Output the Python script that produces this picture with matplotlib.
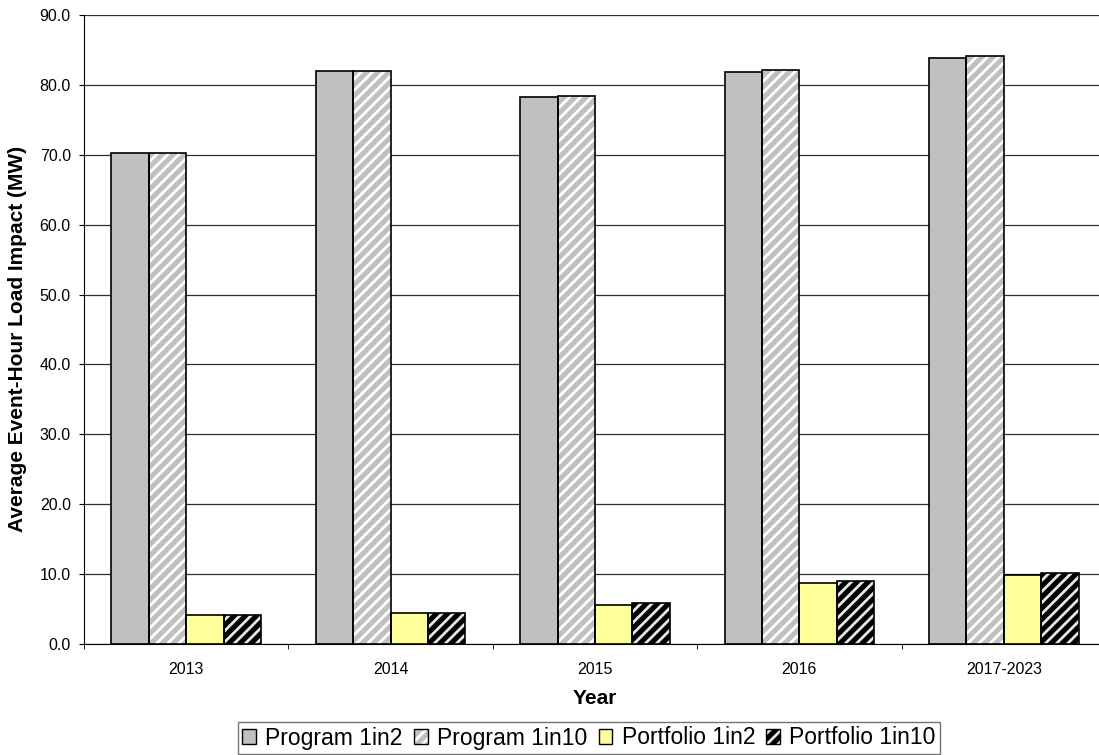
import matplotlib
matplotlib.use("Agg")
import matplotlib.pyplot as plt
import numpy as np
from matplotlib.patches import Patch
from matplotlib.legend_handler import HandlerTuple

plt.rcParams['font.family'] = ['Liberation Sans', 'DejaVu Sans']
plt.rcParams['hatch.linewidth'] = 2.0

years = ["2013", "2014", "2015", "2016", "2017-2023"]
program_1in2 = [70.3, 82.0, 78.3, 81.9, 83.9]
program_1in10 = [70.3, 82.0, 78.4, 82.1, 84.1]
portfolio_1in2 = [4.1, 4.4, 5.6, 8.7, 9.9]
portfolio_1in10 = [4.1, 4.5, 5.8, 9.0, 10.2]

series = [
    ("Program 1in2", program_1in2, "#c0c0c0", None, None),
    ("Program 1in10", program_1in10, "#c0c0c0", "///", "white"),
    ("Portfolio 1in2", portfolio_1in2, "#ffff99", None, None),
    ("Portfolio 1in10", portfolio_1in10, "black", "///", "#e6e6e6"),
]

fig = plt.figure(figsize=(10.99, 7.55), dpi=100)
ax = fig.add_axes([84 / 1099, 1 - 644 / 755, (1106 - 84) / 1099, (644 - 15) / 755])

x = np.arange(len(years))
bw = 0.183
offsets = (np.arange(4) - 1.5) * bw

for (label, vals, fc, hatch, hc), off in zip(series, offsets):
    if hatch:
        ax.bar(x + off, vals, bw, color=fc, edgecolor=hc, hatch=hatch, linewidth=0, zorder=2)
    else:
        ax.bar(x + off, vals, bw, color=fc, linewidth=0, zorder=2)
    ax.bar(x + off, vals, bw, fill=False, edgecolor="black", linewidth=1.2, zorder=3)

ax.set_ylim(0, 90)
ax.set_xlim(-0.5, len(years) - 0.5)
yt = np.arange(0, 91, 10)
ax.set_yticks(yt)
ax.set_yticklabels([f"{v:.1f}" for v in yt], fontsize=11.5)
ax.set_xticks(x)
ax.set_xticklabels(years, fontsize=11.5)
ax.tick_params(axis="x", length=0, pad=13)
ax.set_xticks(np.arange(-0.5, len(years) + 0.5, 1), minor=True)
ax.tick_params(axis="x", which="minor", length=3.5, direction="out", color="black")
ax.tick_params(axis="y", length=3.5, direction="out", color="black", pad=6)

ax.yaxis.grid(True, color="#303030", linewidth=0.9)
ax.set_axisbelow(True)
for s in ["top", "right"]:
    ax.spines[s].set_visible(False)
ax.spines["left"].set_color("black")
ax.spines["bottom"].set_color("black")

ax.set_xlabel("Year", fontsize=15, fontweight="bold")
ax.xaxis.set_label_coords(0.5, -0.071)
ax.set_ylabel("Average Event-Hour Load Impact (MW)", fontsize=15, fontweight="bold")
ax.yaxis.set_label_coords(-0.056, 0.485)

handles = []
labels = []
for label, vals, fc, hatch, hc in series:
    if hatch:
        h = (Patch(facecolor=fc, edgecolor=hc, hatch=hatch, linewidth=0),
             Patch(fill=False, edgecolor="black", linewidth=1))
    else:
        h = Patch(facecolor=fc, edgecolor="black", linewidth=1)
    handles.append(h)
    labels.append(label)
leg = fig.legend(handles, labels, loc="center", bbox_to_anchor=(589 / 1099, 1 - 738 / 755),
                 ncol=4, fontsize=16.5, frameon=True, fancybox=False, edgecolor="#505050",
                 handlelength=0.6, handleheight=0.6, handletextpad=0.4, columnspacing=0.5,
                 borderpad=0.2, borderaxespad=0,
                 handler_map={tuple: HandlerTuple(ndivide=1, pad=0)})
leg.get_frame().set_linewidth(1)

fig.savefig("out.png", dpi=100)
